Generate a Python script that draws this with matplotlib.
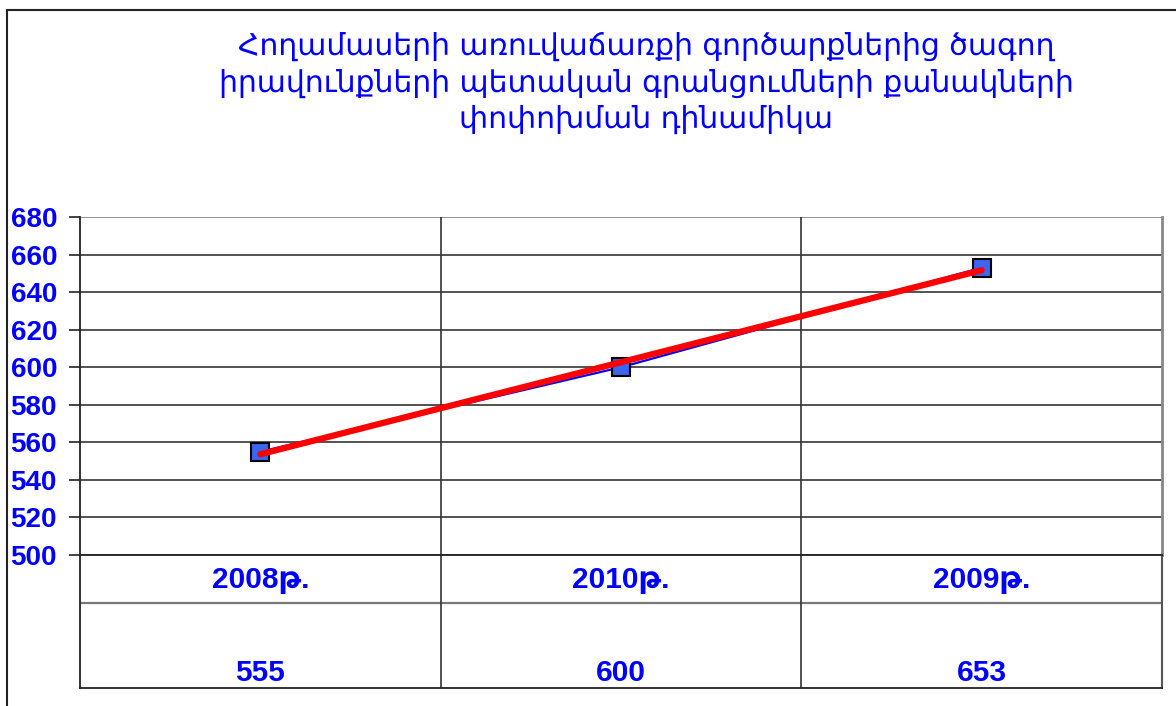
import numpy as np
import matplotlib.pyplot as plt
from matplotlib.patches import Rectangle

# chart data
title = "Հողամասերի առուվաճառքի գործարքներից ծագող\nիրավունքների պետական գրանցումների քանակների\nփոփոխման դինամիկա"
years = ["2008թ.", "2010թ.", "2009թ."]
counts = [555, 600, 653]
yticks = np.arange(500, 681, 20)

blue = "#0000ff"
W, H = 1176, 706

fig = plt.figure(figsize=(W / 100, H / 100), dpi=100)

# outer chart frame (only top and left visible in reference)
fig.patches.append(Rectangle((7 / W, -0.1), 1.2, (H - 10) / H + 0.1, transform=fig.transFigure,
                             fill=False, edgecolor="#222222", linewidth=1.5))

fig.text(646 / W, 1 - 83 / H, title, ha="center", va="center", color=blue,
         fontsize=21.5, linespacing=1.3, family=["DejaVu Sans"])

# plot area
x0, x1, ytop, ybot = 80, 1162, 217, 555
ax = fig.add_axes([x0 / W, 1 - ybot / H, (x1 - x0) / W, (ybot - ytop) / H])
x = np.arange(len(counts))
ax.set_xlim(-0.5, len(counts) - 0.5)
ax.set_ylim(500, 680)
ax.set_yticks(yticks)
ax.set_yticklabels([str(v) for v in yticks], color=blue, fontsize=20, fontweight="bold",
                   family=["Liberation Sans", "DejaVu Sans"], ha="left")
ax.tick_params(axis="y", length=8, width=1.2, color="#222222", pad=42)
ax.set_xticks([])
for v in yticks:
    ax.axhline(v, color="#444444" if v < 680 else "#888888", linewidth=1.3, zorder=1)
for b in x[:-1] + 0.5:
    ax.axvline(b, color="#333333", linewidth=1.2, zorder=1)
ax.spines["left"].set_color("#222222")
ax.spines["left"].set_linewidth(1.3)
ax.spines["right"].set_color("#888888")
ax.spines["right"].set_linewidth(2)
ax.spines["top"].set_visible(False)
ax.spines["bottom"].set_color("#222222")

ax.plot(x, counts, color=blue, linewidth=1.6, marker="s", markersize=13,
        markerfacecolor="#3a66f0", markeredgecolor="black", markeredgewidth=1.5, zorder=3)
k, c = np.polyfit(x, counts, 1)
ax.plot(x, k * x + c, color="#ff0000", linewidth=4.5, solid_capstyle="round", zorder=4)

# data table under the plot
tb = fig.add_axes([x0 / W, 1 - 688 / H, (x1 - x0) / W, (688 - ybot) / H])
tb.set_xlim(-0.5, len(counts) - 0.5)
tb.set_ylim(688, ybot)
tb.set_xticks([])
tb.set_yticks([])
for s in ["left", "bottom", "top"]:
    tb.spines[s].set_color("#222222")
    tb.spines[s].set_linewidth(1.3)
tb.spines["right"].set_color("#555555")
tb.spines["right"].set_linewidth(1.5)
tb.axhline(603, color="#777777", linewidth=1.6)
for b in x[:-1] + 0.5:
    tb.axvline(b, color="#333333", linewidth=1.2)
for i, (yr, n) in enumerate(zip(years, counts)):
    tb.text(i, 580, yr, ha="center", va="center", color=blue, fontsize=21.5, fontweight="bold",
            family=["Liberation Sans", "DejaVu Sans"])
    tb.text(i, 673, str(n), ha="center", va="center", color=blue, fontsize=21.5, fontweight="bold",
            family=["Liberation Sans", "DejaVu Sans"])

fig.savefig("out.png", dpi=100)
